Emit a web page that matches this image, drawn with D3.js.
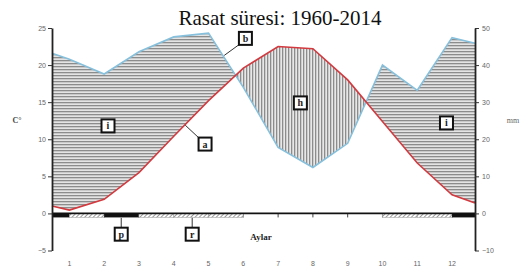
<!DOCTYPE html>
<html>
<head>
<meta charset="utf-8">
<script src="https://cdn.jsdelivr.net/npm/d3@7"></script>
<style>
  body { margin: 0; background: #fff; }
  .tick text { font: 7px "Liberation Sans", sans-serif; fill: #666; }
</style>
</head>
<body>
<div id="chart"></div>
<script>
(function() {
  // monthly values (1..12)
  var months = [1, 2, 3, 4, 5, 6, 7, 8, 9, 10, 11, 12];
  var temp = [0.45, 1.9, 5.5, 10.4, 15.2, 19.6, 22.5, 22.2, 18.0, 12.4, 6.8, 2.5];
  var precip = [41.6, 37.6, 43.6, 47.6, 48.6, 34.0, 17.8, 12.4, 18.9, 40.0, 33.2, 47.4];
  // values where the curves meet the two axes
  var edgeX = [0.5, 12.66];
  var edgeTemp = [1.0, 1.4];
  var edgePrecip = [43.2, 45.9];

  var leftTicks = [-5, 0, 5, 10, 15, 20, 25];
  var rightTicks = [-10, 0, 10, 20, 30, 40, 50];

  // dry (p) / rainy (r) strips under the zero line
  var barFrom = [0.5, 1, 2, 3, 4, 5, 10, 11, 12];
  var barTo = [1, 2, 3, 4, 5, 6, 11, 12, 12.66];
  var barKind = ["p", "r", "p", "r", "r", "r", "r", "r", "p"];

  var labelText = ["i", "b", "h", "a", "i", "p", "r"];
  var labelMonth = [2.11, 6.06, 7.64, 4.9, 11.84, 2.49, 4.53];
  var labelTemp = [11.8, 23.6, 14.9, 9.35, 12.2, -2.8, -2.8];
  // leader end points (null = none)
  var leaderMonth = [null, 5.45, null, 4.33, null, 2.49, 4.53];
  var leaderTemp = [null, 21.3, null, 11.9, null, -0.6, -0.6];

  var W = 520, H = 270;

  var svg = d3.select("#chart").append("svg")
      .attr("width", W)
      .attr("height", H);

  var x = d3.scaleLinear().domain([0.5, 12.66]).range([52, 475]);
  var yL = d3.scaleLinear().domain([-5, 25]).range([250.5, 28]);
  var yR = d3.scaleLinear().domain([-10, 50]).range([250.5, 28]);

  var defs = svg.append("defs");

  var ph = defs.append("pattern")
      .attr("id", "hatchH")
      .attr("patternUnits", "userSpaceOnUse")
      .attr("width", 6).attr("height", 3);
  ph.append("rect").attr("width", 6).attr("height", 3).attr("fill", "#e4e4e4");
  ph.append("rect").attr("width", 6).attr("height", 1.3).attr("fill", "#8c8c8c");

  var pv = defs.append("pattern")
      .attr("id", "hatchV")
      .attr("patternUnits", "userSpaceOnUse")
      .attr("width", 3).attr("height", 6);
  pv.append("rect").attr("width", 3).attr("height", 6).attr("fill", "#e8e8e8");
  pv.append("rect").attr("width", 1.3).attr("height", 6).attr("fill", "#8c8c8c");

  var pd = defs.append("pattern")
      .attr("id", "hatchD")
      .attr("patternUnits", "userSpaceOnUse")
      .attr("width", 3).attr("height", 3)
      .attr("patternTransform", "rotate(45)");
  pd.append("rect").attr("width", 3).attr("height", 3).attr("fill", "#fff");
  pd.append("rect").attr("width", 1).attr("height", 3).attr("fill", "#999");

  var tempPts = [[edgeX[0], edgeTemp[0]]]
      .concat(months.map((m, i) => [m, temp[i]]))
      .concat([[edgeX[1], edgeTemp[1]]]);
  var precPts = [[edgeX[0], edgePrecip[0]]]
      .concat(months.map((m, i) => [m, precip[i]]))
      .concat([[edgeX[1], edgePrecip[1]]]);

  var tempLine = d3.line().x(d => x(d[0])).y(d => yL(d[1]));
  var precLine = d3.line().x(d => x(d[0])).y(d => yR(d[1]));

  // clip areas above each curve
  defs.append("clipPath").attr("id", "aboveTemp")
    .append("path")
      .attr("d", d3.area().x(d => x(d[0])).y0(0).y1(d => yL(d[1]))(tempPts));
  defs.append("clipPath").attr("id", "abovePrec")
    .append("path")
      .attr("d", d3.area().x(d => x(d[0])).y0(0).y1(d => yR(d[1]))(precPts));

  // humid: under precipitation, above temperature
  svg.append("path")
      .attr("d", d3.area().x(d => x(d[0])).y0(yR(0)).y1(d => yR(d[1]))(precPts))
      .attr("fill", "url(#hatchH)")
      .attr("clip-path", "url(#aboveTemp)");

  // arid: under temperature, above precipitation
  svg.append("path")
      .attr("d", d3.area().x(d => x(d[0])).y0(yL(0)).y1(d => yL(d[1]))(tempPts))
      .attr("fill", "url(#hatchV)")
      .attr("clip-path", "url(#abovePrec)");

  svg.append("path")
      .attr("d", precLine(precPts))
      .attr("fill", "none")
      .attr("stroke", "#86c0dc")
      .attr("stroke-width", 1.6);

  svg.append("path")
      .attr("d", tempLine(tempPts))
      .attr("fill", "none")
      .attr("stroke", "#d23a3f")
      .attr("stroke-width", 1.6);

  // month ticks on the zero line
  svg.append("g").selectAll("line")
      .data(months)
    .enter().append("line")
      .attr("x1", d => x(d)).attr("x2", d => x(d))
      .attr("y1", yL(0)).attr("y2", yL(0) + 4)
      .attr("stroke", "#444")
      .attr("stroke-width", 1);

  // strips
  svg.append("g").selectAll("rect")
      .data(barKind)
    .enter().append("rect")
      .attr("x", (d, i) => x(barFrom[i]))
      .attr("y", yL(0))
      .attr("width", (d, i) => x(barTo[i]) - x(barFrom[i]))
      .attr("height", 4)
      .attr("fill", d => d == "p" ? "#111" : "url(#hatchD)")
      .attr("stroke", d => d == "p" ? "none" : "#aaa")
      .attr("stroke-width", 0.6);

  // zero line
  svg.append("line")
      .attr("x1", x.range()[0]).attr("x2", x.range()[1])
      .attr("y1", yL(0)).attr("y2", yL(0))
      .attr("stroke", "#111")
      .attr("stroke-width", 1.6);

  var leftAxis = svg.append("g")
      .attr("transform", "translate(" + x.range()[0] + ",0)")
      .call(d3.axisLeft(yL).tickValues(leftTicks).tickSize(4).tickSizeOuter(0).tickPadding(2));
  var rightAxis = svg.append("g")
      .attr("transform", "translate(" + x.range()[1] + ",0)")
      .call(d3.axisRight(yR).tickValues(rightTicks).tickSize(4).tickSizeOuter(0).tickPadding(3));

  [leftAxis, rightAxis].forEach(a => {
    a.select(".domain").attr("stroke", "#222").attr("stroke-width", 1.8);
    a.selectAll(".tick line").attr("stroke", "#333");
  });

  // month labels
  svg.append("g").selectAll("text")
      .data(months)
    .enter().append("text")
      .attr("x", d => x(d))
      .attr("y", 266)
      .attr("text-anchor", "middle")
      .style("font", "7px 'Liberation Sans', sans-serif")
      .attr("fill", "#666")
      .text(d => d);

  // leaders + letter boxes
  labelText.forEach((t, i) => {
    var cx = x(labelMonth[i]), cy = yL(labelTemp[i]);
    if (leaderMonth[i] != null) {
      var lx = x(leaderMonth[i]), ly = yL(leaderTemp[i]);
      var sx = cx + (lx > cx + 6 ? 6 : lx < cx - 6 ? -6 : 0);
      var sy = cy + (ly > cy + 6 ? 6 : ly < cy - 6 ? -6 : 0);
      svg.append("line")
          .attr("x1", sx).attr("y1", sy).attr("x2", lx).attr("y2", ly)
          .attr("stroke", "#333").attr("stroke-width", 1);
    }
    svg.append("rect")
        .attr("x", cx - 6.5).attr("y", cy - 6.5)
        .attr("width", 13).attr("height", 13)
        .attr("fill", "#fff")
        .attr("stroke", "#111")
        .attr("stroke-width", 2);
    svg.append("text")
        .attr("x", cx).attr("y", cy + 3.5)
        .attr("text-anchor", "middle")
        .style("font", "bold 10px 'Liberation Serif', serif")
        .attr("fill", "#222")
        .text(t);
  });

  svg.append("text")
      .attr("x", 280).attr("y", 25)
      .attr("text-anchor", "middle")
      .style("font", "21px 'Liberation Serif', serif")
      .attr("fill", "#111")
      .text("Rasat süresi: 1960-2014");

  svg.append("text")
      .attr("x", 17).attr("y", 123)
      .attr("text-anchor", "middle")
      .style("font", "bold 8px 'Liberation Serif', serif")
      .attr("fill", "#444")
      .text("C°");

  svg.append("text")
      .attr("x", 513).attr("y", 123)
      .attr("text-anchor", "middle")
      .style("font", "8px 'Liberation Serif', serif")
      .attr("fill", "#666")
      .text("mm");

  svg.append("text")
      .attr("x", 261).attr("y", 240)
      .attr("text-anchor", "middle")
      .style("font", "bold 9px 'Liberation Serif', serif")
      .attr("fill", "#222")
      .text("Aylar");
})();
</script>
</body>
</html>
